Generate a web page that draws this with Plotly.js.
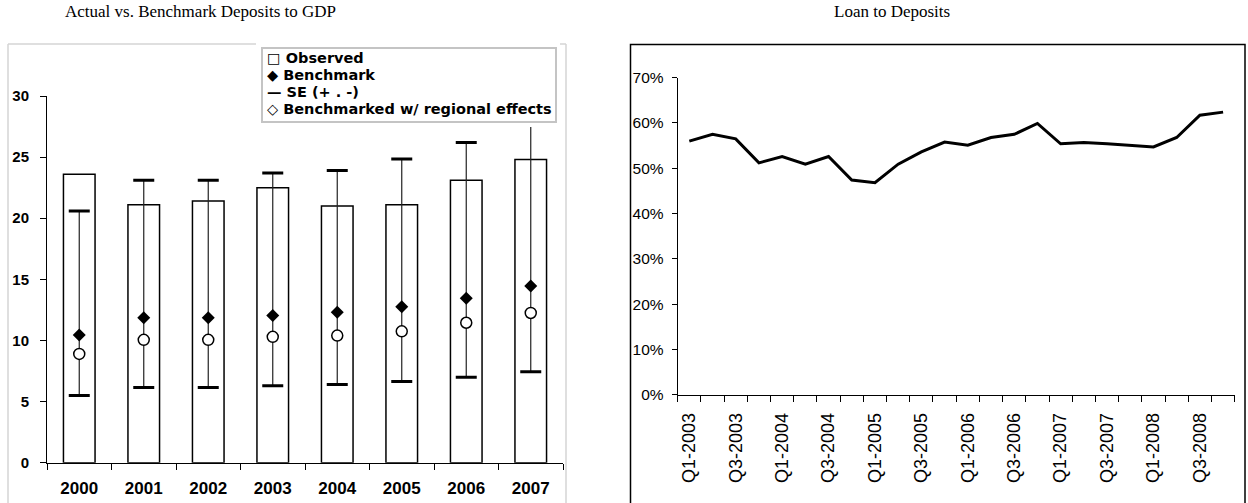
<!DOCTYPE html>
<html>
<head>
<meta charset="utf-8">
<script src="https://cdn.plot.ly/plotly-3.0.1.min.js"></script>
<style>
  html, body { margin: 0; padding: 0; background: #fff; }
  #chart { width: 1248px; height: 503px; }
</style>
</head>
<body>
<div id="chart"></div>
<script>
// ---- Deposits to GDP (percent), 2000-2007 ----
const years = ['2000', '2001', '2002', '2003', '2004', '2005', '2006', '2007'];
const observed = [23.6, 21.1, 21.4, 22.5, 21.0, 21.1, 23.1, 24.8];
const benchmark = [10.45, 11.85, 11.85, 12.05, 12.3, 12.75, 13.45, 14.45];
const seUpper = [20.6, 23.1, 23.1, 23.7, 23.9, 24.85, 26.2, 28.0];
const seLower = [5.5, 6.15, 6.15, 6.3, 6.4, 6.65, 7.0, 7.45];
const regional = [8.9, 10.05, 10.05, 10.3, 10.4, 10.75, 11.45, 12.25];

// ---- Loan to deposits ratio (percent), quarterly 2003-2008 ----
const quarters = [
  'Q1-2003', 'Q2-2003', 'Q3-2003', 'Q4-2003',
  'Q1-2004', 'Q2-2004', 'Q3-2004', 'Q4-2004',
  'Q1-2005', 'Q2-2005', 'Q3-2005', 'Q4-2005',
  'Q1-2006', 'Q2-2006', 'Q3-2006', 'Q4-2006',
  'Q1-2007', 'Q2-2007', 'Q3-2007', 'Q4-2007',
  'Q1-2008', 'Q2-2008', 'Q3-2008', 'Q4-2008'
];
const loanToDeposits = [
  56.0, 57.5, 56.5, 51.2,
  52.6, 50.9, 52.6, 47.4,
  46.8, 50.9, 53.6, 55.8,
  55.1, 56.8, 57.5, 59.9,
  55.4, 55.7, 55.4, 55.1,
  54.7, 56.8, 61.7, 62.4
];

// Entries of the boxed key in the left panel
const keyLines = [
  '\u25A1 Observed',
  '\u25C6 Benchmark',
  '\u2014 SE (+ . -)',
  '\u25C7 Benchmarked w/ regional effects'
];

// Pixel helpers for the 1248x503 page
const W = 1248, H = 503;
const px = v => v / W;
const py = v => 1 - v / H;

const ARIAL = 'Liberation Sans, Arial, sans-serif';
const SERIF = 'Liberation Serif, Times New Roman, serif';
const KEYFONT = 'DejaVu Sans, Verdana, sans-serif';

const traces = [
  {
    type: 'bar', x: years, y: observed, xaxis: 'x', yaxis: 'y',
    width: 0.49,
    marker: { color: '#ffffff', line: { color: '#000000', width: 1.5 } },
    showlegend: false, hoverinfo: 'skip'
  },
  {
    type: 'scatter', mode: 'markers', x: years, y: benchmark, xaxis: 'x', yaxis: 'y',
    marker: { symbol: 'diamond', size: 10, color: '#000000' },
    error_y: {
      type: 'data', symmetric: false,
      array: seUpper.map((u, i) => u - benchmark[i]),
      arrayminus: benchmark.map((b, i) => b - seLower[i]),
      color: '#222222', thickness: 1.2, width: 0
    },
    showlegend: false, hoverinfo: 'skip'
  },
  {
    type: 'scatter', mode: 'markers', x: years.concat(years), y: seUpper.concat(seLower),
    xaxis: 'x', yaxis: 'y',
    marker: { symbol: 'line-ew', size: 15, line: { color: '#000000', width: 3 } },
    showlegend: false, hoverinfo: 'skip'
  },
  {
    type: 'scatter', mode: 'markers', x: years, y: regional, xaxis: 'x', yaxis: 'y',
    marker: { symbol: 'circle', size: 11, color: '#ffffff', line: { color: '#000000', width: 1.5 } },
    showlegend: false, hoverinfo: 'skip'
  },
  {
    type: 'scatter', mode: 'lines', x: quarters, y: loanToDeposits, xaxis: 'x2', yaxis: 'y2',
    line: { color: '#000000', width: 3 },
    showlegend: false, hoverinfo: 'skip'
  }
];

// Key rows, one annotation per entry
const keyRowY = [57.7, 75, 92.3, 109];
const keyAnnotations = keyLines.map((t, i) => ({
  xref: 'paper', yref: 'paper', x: px(265), y: py(keyRowY[i]), xanchor: 'left', yanchor: 'middle',
  align: 'left', showarrow: false, text: t,
  font: { family: KEYFONT, size: 14.5, color: '#000000', weight: 'bold' }
}));

const layout = {
  width: W, height: H,
  margin: { l: 0, r: 0, t: 0, b: 0 },
  paper_bgcolor: '#ffffff', plot_bgcolor: 'rgba(0,0,0,0)',
  showlegend: false, hovermode: false,
  xaxis: {
    domain: [px(47), px(563)], anchor: 'y',
    type: 'category', range: [-0.5, 7.5],
    showline: true, linecolor: '#000000', linewidth: 1,
    ticks: 'outside', tickson: 'boundaries', ticklen: 6, tickcolor: '#000000',
    showgrid: false, zeroline: false,
    tickfont: { family: ARIAL, size: 17, color: '#000000', weight: 'bold' },
    ticklabelstandoff: 10
  },
  yaxis: {
    domain: [py(462.7), py(96)], anchor: 'x',
    range: [0, 30], dtick: 5,
    showline: true, linecolor: '#000000', linewidth: 1,
    ticks: 'outside', ticklen: 6, tickcolor: '#000000',
    showgrid: false, zeroline: false,
    tickfont: { family: ARIAL, size: 15, color: '#000000', weight: 'bold' },
    ticklabelstandoff: 8
  },
  xaxis2: {
    domain: [px(677.7), px(1234.7)], anchor: 'y2',
    type: 'category', range: [-0.5, quarters.length - 0.5],
    tickmode: 'array', tickvals: quarters,
    ticktext: quarters.map((q, i) => (i % 2 === 0 ? q : '')),
    tickangle: -90,
    showline: true, linecolor: '#000000', linewidth: 1,
    ticks: 'outside', tickson: 'boundaries', ticklen: 6, tickcolor: '#000000',
    showgrid: false, zeroline: false,
    tickfont: { family: ARIAL, size: 18, color: '#000000' },
    ticklabelstandoff: 10
  },
  yaxis2: {
    domain: [py(394.7), py(77.7)], anchor: 'x2',
    range: [0, 70], dtick: 10, ticksuffix: '%',
    showline: true, linecolor: '#000000', linewidth: 1,
    ticks: 'outside', ticklen: 5, tickcolor: '#000000',
    showgrid: false, zeroline: false,
    tickfont: { family: ARIAL, size: 15.5, color: '#000000' },
    ticklabelstandoff: 5
  },
  shapes: [
    // light frame around the left panel
    { type: 'line', xref: 'paper', yref: 'paper', x0: px(8), x1: px(8), y0: py(44), y1: py(505), line: { color: '#d4d4d4', width: 1.5 } },
    { type: 'line', xref: 'paper', yref: 'paper', x0: px(8), x1: px(256), y0: py(44), y1: py(44), line: { color: '#d4d4d4', width: 1.5 } },
    { type: 'line', xref: 'paper', yref: 'paper', x0: px(559), x1: px(566), y0: py(44), y1: py(44), line: { color: '#d4d4d4', width: 1.5 } },
    { type: 'line', xref: 'paper', yref: 'paper', x0: px(566), x1: px(566), y0: py(44), y1: py(505), line: { color: '#d4d4d4', width: 1.5 } },
    // white pad behind the key box
    { type: 'rect', xref: 'paper', yref: 'paper', layer: 'above', x0: px(256), x1: px(560), y0: py(127), y1: py(38), fillcolor: '#ffffff', line: { width: 0 } },
    // key box
    { type: 'rect', xref: 'paper', yref: 'paper', layer: 'above', x0: px(262), x1: px(556), y0: py(122), y1: py(48), fillcolor: '#ffffff', line: { color: '#c4c4c4', width: 2 } },
    // black frame around the right panel
    { type: 'rect', xref: 'paper', yref: 'paper', x0: px(630.5), x1: px(1245), y0: py(515), y1: py(44.5), fillcolor: 'rgba(0,0,0,0)', line: { color: '#000000', width: 1.5 } }
  ],
  annotations: [
    {
      xref: 'paper', yref: 'paper', x: px(200), y: py(12), xanchor: 'center', yanchor: 'middle',
      text: 'Actual vs. Benchmark Deposits to GDP', showarrow: false,
      font: { family: SERIF, size: 17, color: '#000000' }
    },
    {
      xref: 'paper', yref: 'paper', x: px(892), y: py(12), xanchor: 'center', yanchor: 'middle',
      text: 'Loan to Deposits', showarrow: false,
      font: { family: SERIF, size: 17, color: '#000000' }
    }
  ].concat(keyAnnotations)
};

Plotly.newPlot('chart', traces, layout, { displayModeBar: false, staticPlot: true });
</script>
</body>
</html>
